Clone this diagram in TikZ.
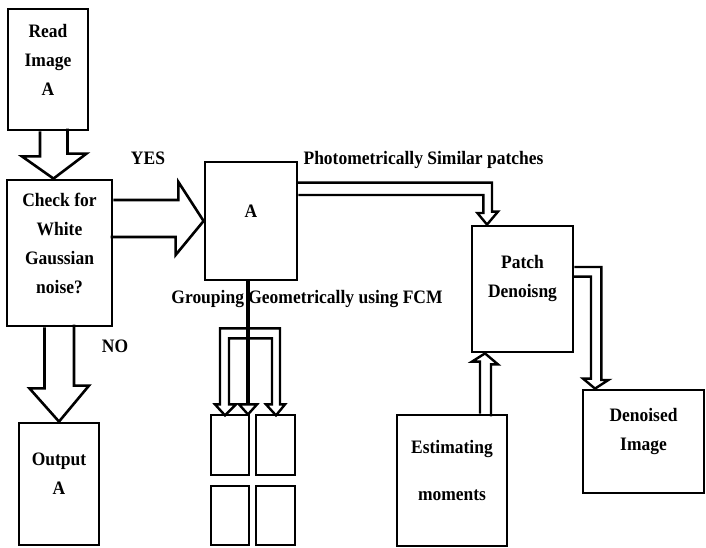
\documentclass[tikz,border=0pt]{standalone}
\usepackage{fontspec}
\setmainfont[FakeStretch=0.92]{Liberation Serif}
\usetikzlibrary{positioning, calc}
\newcommand{\dgfont}{\fontsize{19}{29}\selectfont\bfseries}
\tikzset{
  box/.style={draw, line width=2.8pt, inner sep=0pt},
  boxtext/.style={align=center, yshift=10pt, font=\dgfont},
  lbl/.style={anchor=base, font=\dgfont, inner sep=0pt},
  fat/.style={line width=2.6pt, line join=miter},
  dbl/.style={line width=2.4pt, line join=miter}
}

\begin{document}
\begin{tikzpicture}[x=1pt, y=-1pt]
        \useasboundingbox (0,0) rectangle (706,548);
        % boxes
        \node[box, minimum width=80pt, minimum height=121pt,
          label={[boxtext]center:{Read\\Image\\A}}] (read) at (48,69.5) {};
        \node[box, minimum width=105pt, minimum height=146pt,
          label={[boxtext]center:{Check for\\White\\Gaussian\\noise?}}] (check) at (59.5,253) {};
        \node[box, minimum width=80pt, minimum height=122pt,
          label={[boxtext]center:{Output\\A}}] (output) at (59,484) {};
        \node[box, minimum width=92pt, minimum height=118pt,
          label={[boxtext]center:A}] (imgA) at (251,221) {};
        \node[box, minimum width=101pt, minimum height=126pt,
          label={[boxtext]center:{Patch\\Denoisng}}] (patch) at (522.5,289) {};
        \node[box, minimum width=121pt, minimum height=103pt,
          label={[boxtext]center:{Denoised\\Image}}] (denoised) at (643.5,441.5) {};
        \node[box, minimum width=110pt, minimum height=131pt,
          label={[boxtext]center:{Estimating\\[18pt]moments}}] (estim) at (452,480.5) {};
        % groups
        \node[box, minimum width=38pt, minimum height=60pt] (g1) at (230,445) {};
        \node[box, minimum width=39pt, minimum height=60pt] (g2) at (275.5,445) {};
        \node[box, minimum width=38pt, minimum height=59pt] (g3) at (230,515.5) {};
        \node[box, minimum width=39pt, minimum height=59pt] (g4) at (275.5,515.5) {};

        % big block arrows
        \draw[fat] ([xshift=-8pt]read.south) -- ++(0,25) -- ++(-18,0)
          -- ([xshift=-6pt]check.north) -- ++(33,-25) -- ++(-19,0) -- ++(0,-25);
        \draw[fat] ([xshift=-15pt]check.south) -- ++(0,61) -- ++(-15,0)
          -- (output.north) -- ++(30,-36) -- ++(-15,0) -- ++(0,-61);
        \draw[fat] ([yshift=53pt]check.east) -- ++(65,0) -- ++(0,-18)
          -- (imgA.west) -- ++(-28,34) -- ++(0,-18) -- ++(-65,0);

        % hollow double arrows
        \draw[dbl] ([yshift=26pt]imgA.east) -- ++(185,0) -- ++(0,18) -- ++(-6,0)
          -- ([xshift=-35.5pt]patch.north) -- ++(11,-13) -- ++(-6,0) -- ++(0,-29) -- ++(-195,0);
        \draw[dbl] ([yshift=22pt]patch.east) -- ++(27,0) -- ++(0,113) -- ++(7,0)
          -- ([xshift=-48.5pt]denoised.north) -- ++(-12,-10) -- ++(8,0) -- ++(0,-102) -- ++(-18,0);
        \draw[dbl] ([xshift=28pt]estim.north) -- ++(0,-52) -- ++(-8,0)
          -- ([xshift=-37.5pt]patch.south) -- ++(13,11) -- ++(-7,0) -- ++(0,52);

        % splitting into groups
        \coordinate (fork) at ([xshift=-3pt]imgA.south);
        \draw[dbl] (fork) ++(32,47) -- ++(-60,0) -- ++(0,76) -- ++(-5,0) -- ++(10,11)
          -- ++(11,-11) -- ++(-7,0) -- ++(0,-66) -- ++(43,0) -- ++(0,66) -- ++(-6,0)
          -- ++(10,11) -- ++(9,-11) -- ++(-5,0) -- cycle;
        \draw[line width=4.5pt] (fork) -- ++(0,123);
        \draw[dbl] (fork) ++(-9,123) -- ++(9,10) -- ++(9,-10) -- cycle;

        % labels
        \node[lbl] (yes) at (148,165) {YES};
        \node[lbl] (no) at (115,352) {NO};
        \node[lbl] (photo) at (423.5,165) {Photometrically Similar patches};
        \node[lbl] (group) at (307,303) {Grouping Geometrically using FCM};
      \end{tikzpicture}
\end{document}
